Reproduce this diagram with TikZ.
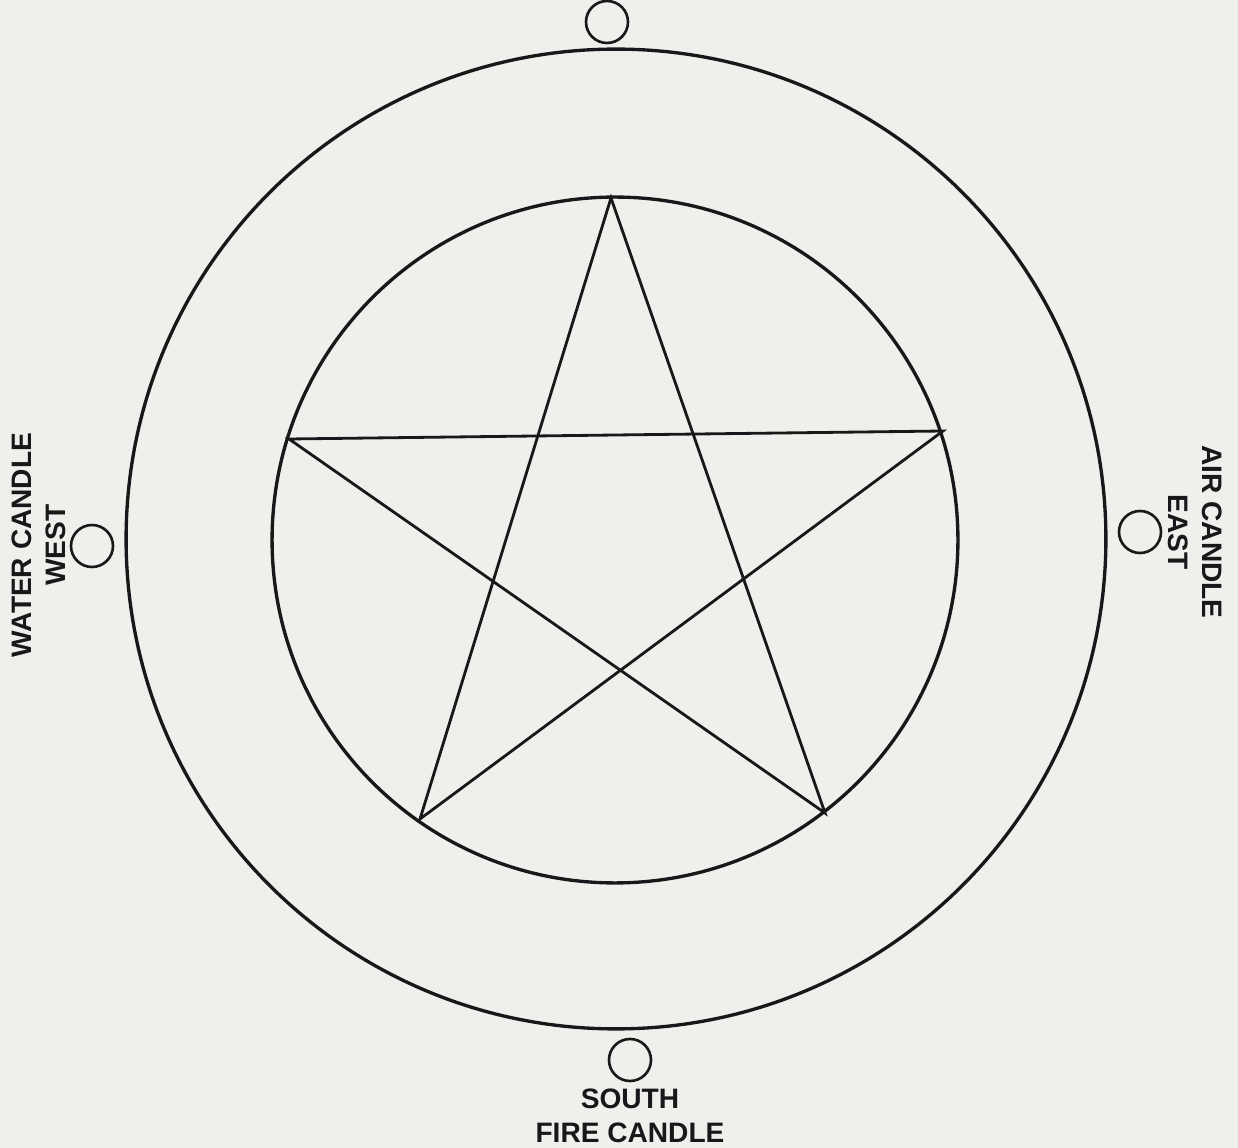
\documentclass[tikz,border=0pt]{standalone}
\usepackage{fontspec}
\setmainfont{Liberation Sans}
\usetikzlibrary{positioning}
\definecolor{paper}{RGB}{239,239,236}
\definecolor{ink}{RGB}{24,24,26}

\begin{document}
\begin{tikzpicture}[x=0.02cm, y=-0.02cm,
  ring/.style={circle, draw=ink, line width=1.9pt, inner sep=0pt, minimum size=#1},
  candle/.style={circle, draw=ink, line width=1.5pt, inner sep=0pt, minimum size=0.84cm},
  star/.style={draw=ink, line width=1.6pt, line join=miter},
  caption/.style={text=ink, align=center, inner sep=0pt, font=\bfseries\fontsize{16}{19.3}\selectfont}]
  \fill[paper] (0,0) rectangle (1238,1148);
  \useasboundingbox (0,0) rectangle (1238,1148);
  \node[ring=19.6cm] (outer) at (616,539) {};
  \node[ring=13.72cm] (inner) at (615,540) {};
  \coordinate (top) at (611,198);
  \coordinate (left) at (289,439);
  \coordinate (right) at (943,431);
  \coordinate (lowleft) at (420,819);
  \coordinate (lowright) at (825,813);
  \draw[star] (top) -- (lowleft) -- (right) -- (left) -- (lowright) -- cycle;
  \node[candle] (north) at (607,22) {};
  \node[candle] (west) at (92,546) {};
  \node[candle] (east) at (1140,532) {};
  \node[candle] (south) at (630,1060) {};
  \node[caption, rotate=90] (westtext) at (39,545) {WATER CANDLE\\WEST};
  \node[caption, rotate=-90] (easttext) at (1195,532) {AIR CANDLE\\EAST};
  \node[caption, below=0.12cm of south] (southtext) {SOUTH\\FIRE CANDLE};
\end{tikzpicture}
\end{document}
